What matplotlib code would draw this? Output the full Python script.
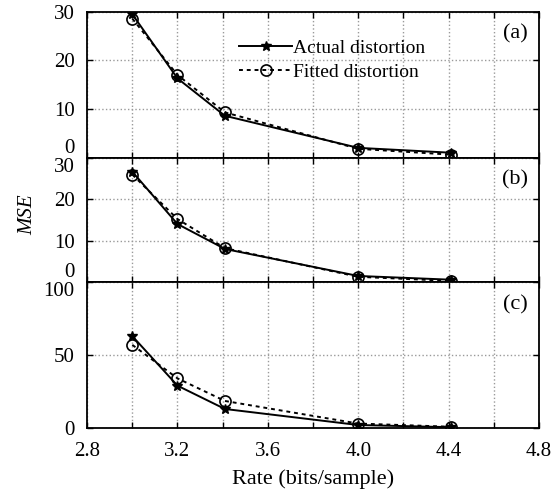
import numpy as np
import matplotlib.pyplot as plt
from matplotlib.ticker import MultipleLocator

plt.rcParams['font.family'] = ['Liberation Serif', 'DejaVu Serif']

# datos
rate = [3.0, 3.2, 3.41, 4.0, 4.41]

actual_a = [29.5, 16.3, 8.6, 2.0, 1.0]
fitted_a = [28.6, 17.0, 9.3, 1.8, 0.6]

actual_b = [26.6, 14.0, 8.0, 1.5, 0.6]
fitted_b = [25.9, 15.2, 8.2, 1.3, 0.3]

actual_c = [63.0, 29.0, 13.0, 2.0, 0.5]
fitted_c = [57.0, 34.0, 18.5, 3.0, 0.8]

paneles = [('(a)', actual_a, fitted_a, 30, [0, 10, 20, 30]),
           ('(b)', actual_b, fitted_b, 30, [0, 10, 20, 30]),
           ('(c)', actual_c, fitted_c, 100, [0, 50, 100])]

fig = plt.figure(figsize=(5.55, 4.93), dpi=100)
gs = fig.add_gridspec(3, 1, height_ratios=[145, 124, 145], hspace=0,
                      left=0.157, right=0.971, top=0.976, bottom=0.132)

for i, (etiqueta, act, fit, ymax, yt) in enumerate(paneles):
    ax = fig.add_subplot(gs[i])
    ax.plot(rate, act, color='black', linewidth=1.4, marker='*', markersize=7,
            label='Actual distortion', zorder=3)
    ax.plot(rate, fit, color='black', linewidth=1.4, linestyle=(0, (2, 2)),
            marker='o', markersize=8, markerfacecolor='none',
            markeredgewidth=1.2, label='Fitted distortion', zorder=3)
    ax.set_xlim(2.8, 4.8)
    ax.set_ylim(0, ymax)
    ax.set_yticks(yt, [str(v) for v in yt])
    ax.xaxis.set_major_locator(MultipleLocator(0.4))
    ax.xaxis.set_minor_locator(MultipleLocator(0.2))
    ax.grid(True, which='both', color='#9a9a9a', linestyle=':', linewidth=1.0)
    ax.tick_params(direction='in', which='both', top=True, right=True,
                   labelsize=15, length=4, width=1)
    ax.tick_params(axis='y', pad=9)
    ax.tick_params(axis='x', pad=10)
    for s in ax.spines.values():
        s.set_linewidth(1.3)
    # evitar que se pisen las etiquetas entre paneles
    etiquetas_y = ax.get_yticklabels()
    if i < 2:
        etiquetas_y[0].set_va('bottom')
    if i > 0:
        etiquetas_y[-1].set_va('top')
    ax.annotate(etiqueta, xy=(1, 1), xycoords='axes fraction',
                xytext=(-8, -16), textcoords='offset points',
                ha='right', va='center', fontsize=16)
    if i < 2:
        ax.tick_params(labelbottom=False)
    else:
        ax.set_xticks([2.8, 3.2, 3.6, 4.0, 4.4, 4.8])
        ax.set_xticklabels(['2.8', '3.2', '3.6', '4.0', '4.4', '4.8'])
        ax.set_xlabel('Rate (bits/sample)', fontsize=16, labelpad=6)
    if i == 0:
        ax.legend(loc='center left', bbox_to_anchor=(0.32, 0.67), frameon=False,
                  fontsize=14, handlelength=2.7, handletextpad=0.05,
                  borderaxespad=0, labelspacing=0.35)

fig.text(0.05, 0.564, 'MSE', rotation=90, fontsize=15, style='italic',
         ha='center', va='center')

plt.savefig('out.png', dpi=100)
